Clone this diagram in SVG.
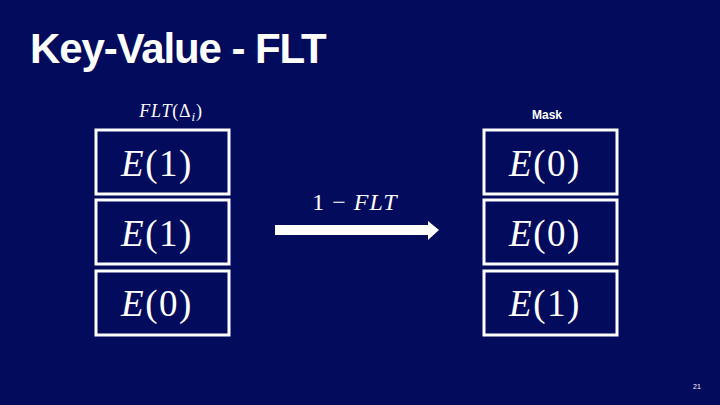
<svg xmlns="http://www.w3.org/2000/svg" width="720" height="405" viewBox="0 0 720 405">
<style>
.box{fill:none;stroke:#fff;stroke-width:3}
.math{font-family:"Liberation Serif","DejaVu Serif",serif;fill:#fff}
.big{font-size:37px;letter-spacing:1.5px}
.it{font-style:italic}
.sans{font-family:"Liberation Sans",Arial,sans-serif;fill:#fff;font-weight:bold}
</style>
<rect width="720" height="405" fill="#020B5C"/>
<text class="sans" x="30" y="63" style="font-size:42px;letter-spacing:-1.1px">Key-Value - FLT</text>
<text class="math" x="171" y="117" style="font-size:18px;letter-spacing:0.8px" text-anchor="middle"><tspan class="it">FLT</tspan>(Δ<tspan class="it" style="font-size:13px" dy="4">i</tspan><tspan dy="-4">)</tspan></text>
<text class="sans" x="547" y="119" style="font-size:12px" text-anchor="middle">Mask</text>
<g id="left1"><rect class="box" x="96" y="130" width="133" height="64"/><text class="math big" x="157" y="176" text-anchor="middle"><tspan class="it">E</tspan>(1)</text></g>
<g id="left2"><rect class="box" x="96" y="200" width="133" height="64"/><text class="math big" x="157" y="246" text-anchor="middle"><tspan class="it">E</tspan>(1)</text></g>
<g id="left3"><rect class="box" x="96" y="271" width="133" height="64"/><text class="math big" x="157" y="316" text-anchor="middle"><tspan class="it">E</tspan>(0)</text></g>
<g id="right1"><rect class="box" x="484" y="130" width="133" height="64"/><text class="math big" x="545" y="176" text-anchor="middle"><tspan class="it">E</tspan>(0)</text></g>
<g id="right2"><rect class="box" x="484" y="200" width="133" height="64"/><text class="math big" x="545" y="246" text-anchor="middle"><tspan class="it">E</tspan>(0)</text></g>
<g id="right3"><rect class="box" x="484" y="271" width="133" height="64"/><text class="math big" x="545" y="316" text-anchor="middle"><tspan class="it">E</tspan>(1)</text></g>
<g id="connectors">
<polygon points="275,225 428,225 428,221 439,230 428,240 428,235 275,235" fill="#fff"/>
<text class="math" x="355" y="210" style="font-size:24px;letter-spacing:1px" text-anchor="middle">1 − <tspan class="it">FLT</tspan></text>
</g>
<text class="sans" x="697" y="389" style="font-size:7px;font-weight:normal" text-anchor="middle">21</text>
</svg>
